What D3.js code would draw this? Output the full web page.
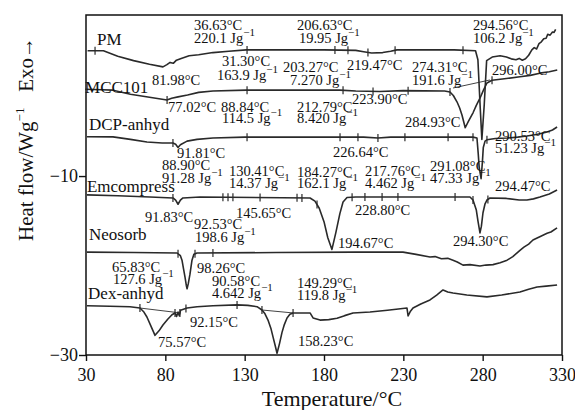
<!DOCTYPE html>
<html>
<head>
<meta charset="utf-8">
<script src="https://cdn.jsdelivr.net/npm/d3@7"></script>
<style>
  body { margin: 0; background: #fff; }
  svg text { font-family: "Liberation Serif", "Times New Roman", serif; fill: #111; }
</style>
</head>
<body>
<div id="chart"></div>
<script>
// ---- data: [temperature °C, heat flow W/g] ----
const pm = [[31,4.0],[36,4.0],[41,4.0],[50,3.4],[60,2.9],[70,2.5],[78.5,2.2],[81,2.45],[83,2.7],[85,2.6],[87,2.95],[90,3.15],[95,3.45],[101,3.55],[110,3.8],[120,3.95],[131,4.1],[180,4.1],[200,4.05],[205,3.9],[210,3.75],[217,3.8],[222,3.95],[226,4.1],[262,4.1],[275.5,4.0],[277,3.0],[278.5,-2.5],[279.5,-5.9],[281,-2.0],[282.5,2.9],[286,3.3],[291,3.45],[295,3.3],[298,3.1],[301,3.0],[303,3.15],[305,2.95],[307,3.1],[309,3.5],[311,4.1],[312.5,4.35],[314,4.2],[315.5,4.8],[317,5.0],[318.5,5.35],[320,5.4],[321,5.85],[322.5,5.75],[324,6.1],[325,6.05],[326,6.4]];
const mcc101 = [[29.5,-0.3],[40,-0.35],[47,-0.4],[58,-0.85],[70,-1.2],[81,-1.5],[84,-1.3],[88,-1.15],[94,-0.95],[101,-0.65],[110,-0.5],[131,-0.4],[190,-0.4],[200,-0.5],[215,-0.55],[230,-0.45],[256,-0.5],[259.4,-0.6],[261.5,-1.0],[263.8,-1.7],[265.5,-2.4],[267,-3.2],[269,-4.6],[271,-3.9],[274,-2.9],[276,-2.1],[278.3,-1.3],[280.5,-0.4],[282.7,0.4],[285.9,0.7],[295,0.9],[303.5,1.1],[310,1.25],[316,1.5],[322,1.65],[327,1.85]];
const dcpAnhyd = [[30.6,-5.6],[47,-5.62],[58,-5.9],[68.4,-6.2],[78,-6.3],[84.8,-6.3],[86.5,-6.45],[88,-6.8],[89.5,-6.5],[93.7,-6.1],[100,-5.9],[110,-5.75],[130,-5.65],[205,-5.65],[214,-5.75],[222,-5.65],[273.9,-5.65],[276.4,-5.75],[277.2,-7.5],[277.8,-9.0],[279,-10.3],[279.8,-8.5],[280.4,-6.8],[281.5,-6.1],[282.7,-5.95],[288,-5.8],[295.4,-5.75],[302,-5.65],[307.9,-5.52],[314,-5.35],[320.6,-5.08],[324,-4.85],[326.9,-4.52]];
const emcompress = [[30.6,-12.1],[50,-12.2],[70.3,-12.34],[84.8,-12.45],[86.5,-12.7],[88,-13.15],[89.5,-12.7],[91.1,-12.45],[101.9,-12.34],[171.2,-12.45],[174.3,-12.8],[177,-13.6],[180,-15.1],[182.4,-16.9],[185,-18.2],[187.5,-16.3],[190,-14.2],[192,-12.9],[194.5,-12.4],[200,-12.34],[272,-12.34],[273.9,-12.68],[276,-13.8],[277.1,-15.1],[278.3,-16.36],[279.2,-15.6],[280.2,-14.1],[281.5,-13.1],[282.7,-12.68],[284.6,-12.45],[295,-12.5],[303,-12.68],[307.9,-12.68],[312,-12.55],[316.1,-12.34],[322,-12.0],[326.9,-11.56]];
const neosorb = [[30.6,-18.5],[60,-18.55],[87.4,-18.6],[89.5,-18.9],[90.5,-19.4],[91.5,-20.4],[92.4,-21.3],[93.2,-22.2],[93.7,-22.6],[94.5,-22.0],[95.5,-21.0],[96.3,-20.0],[96.8,-19.4],[98,-18.75],[100,-18.6],[150,-18.55],[200,-18.5],[229.8,-18.5],[238,-18.75],[246.8,-19.05],[250,-19.0],[254,-19.25],[258,-19.2],[261.3,-19.4],[264,-19.6],[267.6,-19.95],[272,-19.9],[278.3,-20.05],[282,-19.95],[286.5,-19.9],[291,-19.7],[295.4,-19.4],[299,-19.0],[303.5,-18.3],[306,-17.95],[309,-17.6],[311.7,-17.15],[314,-16.95],[317,-16.7],[320.6,-16.4],[323,-16.25],[326.9,-15.8]];
const dexAnhyd = [[30.6,-24.5],[45,-24.55],[57.7,-24.6],[64,-24.75],[66.5,-25.2],[68.4,-25.75],[71,-26.8],[73.5,-27.8],[76,-27.3],[78.5,-26.65],[81.5,-26.0],[84.2,-25.5],[86.1,-25.3],[87.1,-25.7],[88,-25.2],[88.8,-25.6],[89.6,-25.0],[93.7,-24.75],[100,-24.6],[110,-24.5],[125.2,-24.4],[132,-24.45],[137.8,-24.6],[140.9,-24.97],[142.8,-25.4],[144.7,-26.1],[146.5,-27.0],[147.9,-28.0],[149.3,-29.0],[150.4,-29.8],[152,-28.7],[153.5,-27.5],[155,-26.6],[156.7,-25.86],[158.5,-25.45],[160.5,-25.3],[171.2,-25.3],[173.1,-25.86],[177.5,-26.1],[183,-26.05],[188.2,-25.9],[193,-25.6],[198.3,-25.3],[209,-25.2],[220,-25.0],[232.3,-24.75],[233,-25.64],[234.5,-25.1],[236.1,-24.75],[241,-24.3],[246.8,-23.85],[251,-23.3],[255,-22.73],[258,-22.95],[261.3,-23.07],[270,-23.3],[282.7,-23.5],[292,-23.3],[303.5,-22.96],[309,-22.65],[314.3,-22.4],[320,-22.3],[326.9,-22.18]];

// analysis marks (temperatures) on each curve
const pmTicks = [35.7, 131.5, 186.9, 195.1, 207.7, 224.8, 267.6];
const mccTicks = [81.1, 131.5, 192, 210.9, 233, 259.4, 285.9];
const dcpTicks = [84.8, 131.5, 190.1, 201.4, 214, 231, 258.2, 273.9, 282.7];
const emcTicks = [84.8, 116.3, 119.5, 122.6, 139.7, 163, 166.1, 175.6, 197.7, 205.8, 216.6, 226.6, 262.6, 273.9, 283.3];
const neoTicks = [88, 98.7, 110];
const dexTicks = [64, 86.1, 89.2, 93, 125.2, 140.9, 160.5];

// peak integration baselines
const baselines = [
  [[261.3,-0.16],[284.6,0.74]],
  [[64,-24.75],[89.6,-25.3]],
  [[140.9,-24.97],[160.5,-25.3]]
];

const seriesNames = ["PM", "MCC101", "DCP-anhyd", "Emcompress", "Neosorb", "Dex-anhyd"];
const seriesData = [pm, mcc101, dcpAnhyd, emcompress, neosorb, dexAnhyd];
const seriesTicks = [pmTicks, mccTicks, dcpTicks, emcTicks, neoTicks, dexTicks];
// name label anchor [T, H]
const nameAnchors = [[36.9,4.65],[29.4,-0.72],[31.9,-4.85],[30.6,-11.78],[31.9,-17.15],[31.3,-23.74]];

// annotations: [text, superscript, T, H]
const notes = [
  ["36.63°C","",98.1,6.32],["220.1 Jg","−1",98.1,4.87],
  ["206.63°C","",163.0,6.32],["19.95 Jg","−1",164.2,4.87],
  ["294.56°C","",273.9,6.32],["106.2 Jg","−1",273.9,4.87],
  ["81.98°C","",71.6,0.18],["31.30°C","",115.7,2.30],["163.9 Jg","−1",112.6,0.74],
  ["203.27°C","",154.2,1.63],["7.270 Jg","−1",158.6,0.18],["219.47°C","",194.5,1.85],
  ["274.31°C","",235.5,1.63],["191.6 Jg","−1",235.5,0.18],["296.00°C","",285.9,1.29],
  ["77.02°C","",81.7,-2.84],["88.84°C","",115.1,-2.84],["114.5 Jg","−1",115.7,-4.07],
  ["212.79°C","",163.0,-2.84],["8.420 Jg","−1",163.0,-4.07],["223.90°C","",197.7,-1.95],
  ["284.93°C","",231.1,-4.52],
  ["91.81°C","",87.4,-7.98],["226.64°C","",185.7,-7.87],
  ["290.53°C","",287.8,-6.08],["51.23 Jg","−1",287.8,-7.42],
  ["88.90°C","",77.9,-9.32],["91.28 Jg","−1",77.9,-10.78],
  ["130.41°C","",120.1,-9.99],["14.37 Jg","−1",120.1,-11.33],
  ["184.27°C","",163,-10.11],["162.1 Jg","−1",163,-11.33],
  ["217.76°C","",205.9,-9.99],["4.462 Jg","−1",205.9,-11.33],
  ["291.08°C","",246.8,-9.43],["47.33 Jg","−1",246.8,-10.78],
  ["294.47°C","",287.8,-11.67],
  ["91.83°C","",67.2,-15.13],["92.53°C","",98.1,-15.92],["198.6 Jg","−1",98.7,-17.37],
  ["145.65°C","",124.5,-14.69],["228.80°C","",199.5,-14.35],
  ["194.67°C","",188.8,-18.04],["294.30°C","",261.3,-17.82],
  ["65.83°C","",46.4,-20.72],["127.6 Jg","−1",47.0,-22.06],
  ["98.26°C","",100,-20.83],["90.58°C","",109.4,-22.29],["4.642 Jg","−1",109.4,-23.63],
  ["149.29°C","",163,-22.51],["119.8 Jg","−1",163,-23.85],
  ["92.15°C","",95.5,-26.87],["75.57°C","",75.4,-29.1],["158.23°C","",163.6,-28.99]
];

const xTicks = [30, 80, 130, 180, 230, 280, 330];
const yTicks = [-10, -30];

// ---- chart ----
const W = 575, H = 410;
const margin = { top: 15, right: 13, bottom: 55, left: 86 };
const width = W - margin.left - margin.right;
const height = H - margin.top - margin.bottom;

const svg = d3.select("#chart").append("svg")
  .attr("width", W).attr("height", H);
const g = svg.append("g").attr("transform", `translate(${margin.left},${margin.top})`);

const x = d3.scaleLinear().domain([30, 330]).range([0, width]);
const y = d3.scaleLinear().domain([-30, 8]).range([height, 0]);

// axes
g.append("g")
  .attr("transform", `translate(0,${height})`)
  .call(d3.axisBottom(x).tickValues(xTicks).tickSize(6).tickSizeOuter(0).tickFormat(d3.format("d")))
  .call(a => a.select(".domain").remove())
  .call(a => a.selectAll("line").attr("stroke", "#111").attr("stroke-width", 1.4))
  .call(a => a.selectAll("text").attr("font-size", "18px").attr("dy", "0.95em").attr("fill", "#111")
    .style("font-family", "'Liberation Serif','Times New Roman',serif"));

g.append("g")
  .call(d3.axisLeft(y).tickValues(yTicks).tickSize(7).tickSizeOuter(0))
  .call(a => a.select(".domain").remove())
  .call(a => a.selectAll("line").attr("stroke", "#111").attr("stroke-width", 1.4))
  .call(a => a.selectAll("text").attr("font-size", "18px").attr("x", -8).attr("fill", "#111")
    .style("font-family", "'Liberation Serif','Times New Roman',serif"));

// frame
g.append("rect")
  .attr("width", width).attr("height", height)
  .attr("fill", "none").attr("stroke", "#111").attr("stroke-width", 1.5);

const line = d3.line().x(d => x(d[0])).y(d => y(d[1]));

// integration baselines
g.selectAll(".base").data(baselines).enter().append("path")
  .attr("d", line).attr("fill", "none")
  .attr("stroke", "#444").attr("stroke-width", 1);

// curves
g.selectAll(".curve").data(seriesData).enter().append("path")
  .attr("class", "curve")
  .attr("d", line)
  .attr("fill", "none")
  .attr("stroke", "#2a2a2a")
  .attr("stroke-width", 1.6)
  .attr("stroke-linejoin", "round");

// tick marks on curves
const bis = d3.bisector(d => d[0]).left;
function valueAt(data, t) {
  const i = Math.max(1, Math.min(data.length - 1, bis(data, t)));
  const a = data[i - 1], b = data[i];
  return a[1] + (b[1] - a[1]) * (t - a[0]) / (b[0] - a[0]);
}
seriesData.forEach((data, k) => {
  g.selectAll(null).data(seriesTicks[k]).enter().append("line")
    .attr("x1", t => x(t)).attr("x2", t => x(t))
    .attr("y1", t => y(valueAt(data, t)) - 4)
    .attr("y2", t => y(valueAt(data, t)) + 4)
    .attr("stroke", "#2a2a2a").attr("stroke-width", 1.2);
});

// series names
g.selectAll(".name").data(seriesNames).enter().append("text")
  .attr("x", (d, i) => x(nameAnchors[i][0]))
  .attr("y", (d, i) => y(nameAnchors[i][1]))
  .attr("font-size", "17px")
  .text(d => d);

// annotations
const nt = g.selectAll(".note").data(notes).enter().append("text")
  .attr("x", d => x(d[2]))
  .attr("y", d => y(d[3]))
  .attr("font-size", "14.5px");
nt.append("tspan").text(d => d[0]);
nt.filter(d => d[1]).append("tspan")
  .attr("dy", -7).attr("font-size", "11px")
  .text(d => d[1]);

// axis titles
svg.append("text")
  .attr("x", margin.left + width / 2 + 8).attr("y", 406)
  .attr("text-anchor", "middle")
  .attr("font-size", "22px")
  .text("Temperature/°C");

const yt = svg.append("text")
  .attr("transform", `translate(33,139) rotate(-90)`)
  .attr("text-anchor", "middle")
  .attr("font-size", "21px");
yt.append("tspan").text("Heat flow/Wg");
yt.append("tspan").attr("dy", -9).attr("font-size", "13px").text("−1");
yt.append("tspan").attr("dy", 9).text("\u2002 Exo→");
</script>
</body>
</html>
